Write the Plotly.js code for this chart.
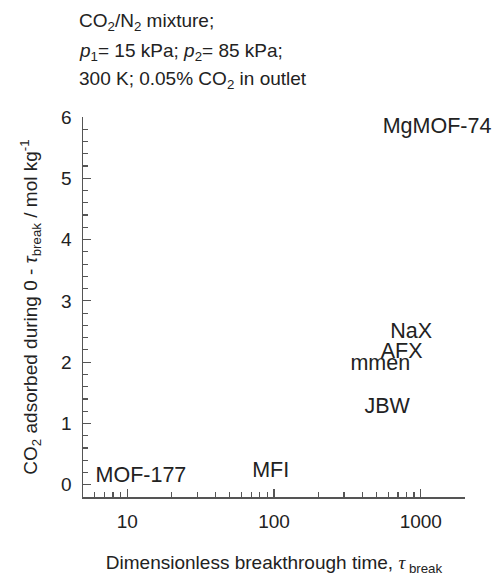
<!DOCTYPE html>
<html>
<head>
<meta charset="utf-8">
<script src="https://cdn.plot.ly/plotly-3.0.1.min.js"></script>
<style>html,body{margin:0;padding:0;background:#fff;}#chart{width:494px;height:576px;}</style>
</head>
<body>
<div id="chart"></div>
<script>
// Materials and their values
const materials = ["MgMOF-74", "NaX", "AFX", "mmen", "JBW", "MFI", "MOF-177"];
const breakthroughTime = [1290, 860, 740, 530, 590, 95, 12.4];      // tau_break (dimensionless)
const co2Adsorbed = [5.82, 2.48, 2.15, 1.96, 1.26, 0.22, 0.13];      // mol/kg
const xTickValues = [10, 100, 1000];
const xTickLabels = ["10", "100", "1000"];
const yTickValues = [0, 1, 2, 3, 4, 5, 6];
const titleLines = [
  "CO<sub>2</sub>/N<sub>2</sub> mixture;",
  "<i>p</i><sub>1</sub>= 15 kPa; <i>p</i><sub>2</sub>= 85 kPa;",
  "300 K; 0.05% CO<sub>2</sub> in outlet"
];

const W = 494, H = 576;
const M = {l: 83, r: 29, t: 117, b: 79};
const plotH = H - M.t - M.b;
function paperY(py) { return (H - M.b - py) / plotH; }
function paperX(px) { return (px - M.l) / (W - M.l - M.r); }

const font = "Liberation Sans, Arial, sans-serif";
const textColor = "#222";

const trace = {
  type: "scatter",
  mode: "text",
  x: breakthroughTime,
  y: co2Adsorbed,
  text: materials,
  textposition: "middle center",
  textfont: {family: font, size: 21.5, color: textColor},
  cliponaxis: false,
  hoverinfo: "none",
  showlegend: false
};

const titleY = [22, 52, 80];
const annotations = titleLines.map((t, i) => ({
  text: t, xref: "paper", yref: "paper",
  x: paperX(77), y: paperY(titleY[i]),
  xanchor: "left", yanchor: "middle", showarrow: false,
  font: {family: font, size: 19, color: textColor}
}));

const layout = {
  width: W, height: H,
  margin: M,
  paper_bgcolor: "#fff", plot_bgcolor: "#fff",
  showlegend: false,
  annotations: annotations,
  xaxis: {
    type: "log",
    range: [Math.log10(5), Math.log10(2000)],
    tickvals: xTickValues, ticktext: xTickLabels,
    ticks: "inside", ticklen: 8, tickwidth: 1.2, tickcolor: "#555",
    minor: {ticks: "inside", ticklen: 5, tickwidth: 1.2, tickcolor: "#555", dtick: "D1", showgrid: false},
    showline: true, linecolor: "#555", linewidth: 1.5,
    showgrid: false, zeroline: false,
    tickfont: {family: font, size: 19, color: textColor},
    ticklabelstandoff: 7,
    title: {text: "Dimensionless breakthrough time, <span style=\"font-family:'Liberation Serif',serif;font-style:italic\">τ</span><sub> break</sub>",
            font: {family: font, size: 19, color: textColor}, standoff: 24}
  },
  yaxis: {
    range: [-0.2, 6],
    tickvals: yTickValues,
    ticks: "inside", ticklen: 8, tickwidth: 1.2, tickcolor: "#555",
    minor: {ticks: "inside", ticklen: 5, tickwidth: 1.2, tickcolor: "#555", dtick: 0.2, tick0: 0, showgrid: false},
    showline: true, linecolor: "#555", linewidth: 1.5,
    showgrid: false, zeroline: false,
    tickfont: {family: font, size: 19, color: textColor},
    ticklabelstandoff: 6,
    title: {text: "CO<sub>2</sub> adsorbed during 0 - <i>τ</i><sub>break</sub> / mol kg<sup>-1</sup>",
            font: {family: font, size: 19, color: textColor}, standoff: 18}
  }
};

Plotly.newPlot("chart", [trace], layout, {displayModeBar: false, staticPlot: true});
</script>
</body>
</html>
